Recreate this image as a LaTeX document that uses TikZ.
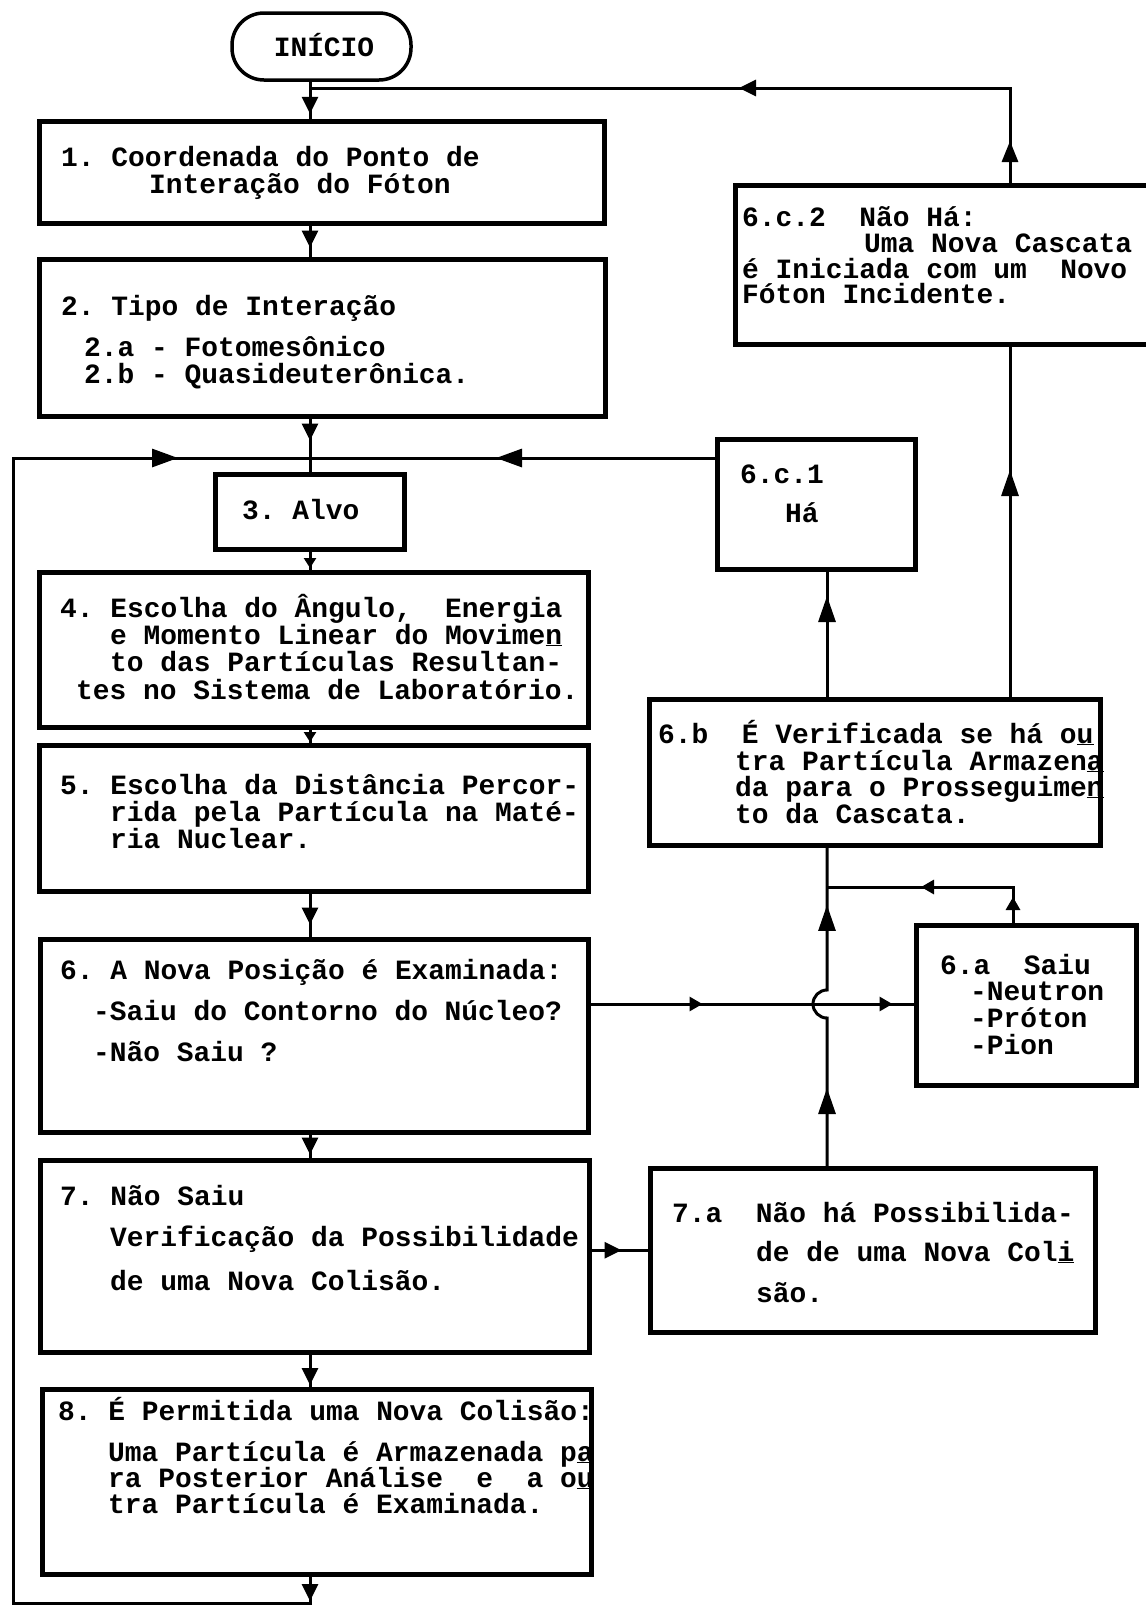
\documentclass[tikz,border=0pt]{standalone}
\usepackage{fontspec}
\setmonofont{Liberation Mono}
\usetikzlibrary{arrows.meta,decorations.markings,calc}
\tikzset{
  hd/.tip={Triangle[length=17pt,width=16pt]},
  hdv/.tip={Triangle[length=21pt,width=16pt]},
  hds/.tip={Triangle[length=10pt,width=12pt]},
  hdr/.tip={Triangle[length=13pt,width=14pt]},
  hdl/.tip={Triangle[length=26pt,width=18pt]},
  hdu/.tip={Triangle[length=26pt,width=17pt]},
  box/.style={draw, line width=4.5pt, rectangle, inner sep=0pt, anchor=north west},
  term/.style={draw, line width=3.5pt, rectangle, rounded corners=32pt, inner sep=0pt,
    minimum width=179pt, minimum height=67pt},
  conn/.style={line width=3pt},
  txt/.style={font=\ttfamily\bfseries\fontsize{27.9pt}{27.9pt}\selectfont, anchor=base west, inner sep=0pt},
  tips/.style={postaction={decorate}, decoration={markings,#1}}
}
\begin{document}
\begin{tikzpicture}[x=1pt,y=-1pt]
\useasboundingbox (0,0) rectangle (1146,1610);
\clip (0,0) rectangle (1146,1610);
\fill[white] (0,0) rectangle (1146,1610);

% guide coordinates
\coordinate (spine) at (310,0);
\coordinate (lx) at (13,0);
\coordinate (vx) at (827,0);
\coordinate (vxa) at (1013,0);
\coordinate (vxc) at (1010,0);
\coordinate (ytop) at (0,88);
\coordinate (yloop) at (0,458);
\coordinate (yj) at (0,887);
\coordinate (yh) at (0,1004);
\coordinate (ybot) at (0,1603);

% boxes
\node[term] (start) at (321.5,46.5) {};
\node[txt, anchor=base] (t0) at (324,56) {INÍCIO};

\node[box, minimum width=565pt, minimum height=102pt] (b1) at (37,119) {};
\node[box, minimum width=566pt, minimum height=157pt] (b2) at (37,257) {};
\node[box, minimum width=189pt, minimum height=75pt]  (b3) at (213,472) {};
\node[box, minimum width=549pt, minimum height=155pt] (b4) at (37,570) {};
\node[box, minimum width=549pt, minimum height=146pt] (b5) at (37,743) {};
\node[box, minimum width=548pt, minimum height=193pt] (b6) at (38,937) {};
\node[box, minimum width=549pt, minimum height=192pt] (b7) at (38,1158) {};
\node[box, minimum width=549pt, minimum height=185pt] (b8) at (40,1387) {};
\node[box, minimum width=420pt, minimum height=159pt] (b6c2) at (733,183) {};
\node[box, minimum width=198pt, minimum height=130pt] (b6c1) at (715,437) {};
\node[box, minimum width=451pt, minimum height=146pt] (b6b) at (647,697) {};
\node[box, minimum width=220pt, minimum height=160pt] (b6a) at (914,923) {};
\node[box, minimum width=445pt, minimum height=164pt] (b7a) at (648,1166) {};

% texts
\node[txt] (t1a) at (61,166) {1. Coordenada do Ponto de};
\node[txt] (t1b) at (149,193) {Interação do Fóton};

\node[txt] (t2a) at (61,315) {2. Tipo de Interação};
\node[txt] (t2b) at (84,356) {2.a - Fotomesônico};
\node[txt] (t2c) at (84,383) {2.b - Quasideuterônica.};

\node[txt] (t3a) at (242,519) {3. Alvo};

\node[txt] (t4a) at (60,617) {4. Escolha do Ângulo,~~Energia};
\node[txt] (t4b) at (110,644) {e Momento Linear do Movime\underline{n}};
\node[txt] (t4c) at (110,671) {to das Partículas Resultan-};
\node[txt] (t4d) at (76,699) {tes no Sistema de Laboratório.};

\node[txt] (t5a) at (60,794) {5. Escolha da Distância Percor-};
\node[txt] (t5b) at (110,821) {rida pela Partícula na Maté-};
\node[txt] (t5c) at (110,848) {ria Nuclear.};

\node[txt] (t6a) at (60,979) {6. A Nova Posição é Examinada:};
\node[txt] (t6b) at (93,1020) {-Saiu do Contorno do Núcleo?};
\node[txt] (t6c) at (93,1061) {-Não Saiu ?};

\node[txt] (t7a) at (60,1205) {7. Não Saiu};
\node[txt] (t7b) at (110,1246) {Verificação da Possibilidade};
\node[txt] (t7c) at (110,1290) {de uma Nova Colisão.};

\node[txt] (t8a) at (58,1420) {8. É Permitida uma Nova Colisão:};
\node[txt] (t8b) at (108,1461) {Uma Partícula é Armazenada p\underline{a}};
\node[txt] (t8c) at (108,1487) {ra Posterior Análise~~e~~a o\underline{u}};
\node[txt] (t8d) at (108,1513) {tra Partícula é Examinada.};

\node[txt] (tc2a) at (742,226) {6.c.2~~Não Há:};
\node[txt] (tc2b) at (864,252) {Uma Nova Cascata};
\node[txt] (tc2c) at (742,278) {é Iniciada com um~~Novo};
\node[txt] (tc2d) at (742,303) {Fóton Incidente.};

\node[txt] (tc1a) at (740,483) {6.c.1};
\node[txt] (tc1b) at (785,522) {Há};

\node[txt] (tba) at (658,743) {6.b~~É Verificada se há o\underline{u}};
\node[txt] (tbb) at (735,770) {tra Partícula Armazen\underline{a}};
\node[txt] (tbc) at (735,796) {da para o Prosseguime\underline{n}};
\node[txt] (tbd) at (735,823) {to da Cascata.};

\node[txt] (taa) at (940,974) {6.a~~Saiu};
\node[txt] (tab) at (970,1000) {-Neutron};
\node[txt] (tac) at (970,1027) {-Próton};
\node[txt] (tad) at (970,1054) {-Pion};

\node[txt] (t7aa) at (672,1222) {7.a~~Não há Possibilida-};
\node[txt] (t7ab) at (756,1261) {de de uma Nova Col\underline{i}};
\node[txt] (t7ac) at (756,1302) {são.};

% spine connectors
\draw[conn, tips={mark=at position 32pt with {\arrow{hd}}}] (start.south -| spine) -- (b1.north -| spine);
\draw[conn, tips={mark=at position 22pt with {\arrow{hd}}}] (b1.south -| spine) -- (b2.north -| spine);
\draw[conn, tips={mark=at position 22pt with {\arrow{hd}}}] (b2.south -| spine) -- (b3.north -| spine);
\draw[conn] (b3.south -| spine) -- (b4.north -| spine);
\draw[conn, -{hds}] (b3.south -| spine) -- ($(b4.north -| spine)+(0,-2)$);
\draw[conn] (b4.south -| spine) -- (b5.north -| spine);
\draw[conn, -{hds}] (b4.south -| spine) -- ($(b5.north -| spine)+(0,-1)$);
\draw[conn, tips={mark=at position 31pt with {\arrow{hd}}}] (b5.south -| spine) -- (b6.north -| spine);
\draw[conn, tips={mark=at position 20pt with {\arrow{hd}}}] (b6.south -| spine) -- (b7.north -| spine);
\draw[conn] (b7.south -| spine) -- (b8.north -| spine);
\draw[conn, -{hd}] (b7.south -| spine) -- ($(b8.north -| spine)+(0,-2)$);

% return loop from 8 to 3
\draw[conn, tips={mark=at position -132pt with {\arrow{hdl}}}]
  (b8.south -| spine) -- (ybot -| spine) -- (ybot -| lx) -- (yloop -| lx) -- (yloop -| spine);
\draw[conn, -{hd}] (b8.south -| spine) -- ($(ybot -| spine)+(0,-2)$);

% 6.c.1 back to 3
\draw[conn, tips={mark=at position 219pt with {\arrow{hdl}}}] (yloop -| b6c1.west) -- (yloop -| spine);

% 6.c.2 back to 1
\draw[conn, tips={mark=at position 42pt with {\arrow{hdv}}, mark=at position 366pt with {\arrow{hd}}}]
  (b6c2.north -| vxc) -- (ytop -| vxc) -- (ytop -| spine);

% 6.b to 6.c.1 and 6.c.2
\draw[conn, tips={mark=at position 101pt with {\arrow{hdu}}}] (b6b.north -| vx) -- (b6c1.south -| vx);
\draw[conn, tips={mark=at position 227pt with {\arrow{hdu}}}] (b6b.north -| vxc) -- (b6c2.south -| vxc);

% 6 to 6.a
\draw[conn, tips={mark=at position 112pt with {\arrow{hdr}}, mark=at position 302pt with {\arrow{hdr}}}]
  (yh -| b6.east) -- (yh -| b6a.west);

% 6.a to junction
\draw[conn, tips={mark=at position 26pt with {\arrow{hdr}}, mark=at position 128pt with {\arrow{hdr}}}]
  (b6a.north -| vxa) -- (yj -| vxa) -- (yj -| vx);

% 7.a up to 6.b with line jump
\draw[conn, tips={mark=at position 78pt with {\arrow{hdu}}, mark=at position 277pt with {\arrow{hdu}}}]
  (b7a.north -| vx) -- ($(yh -| vx)+(0,14)$) arc[start angle=270, end angle=90, radius=14pt] -- (b6b.south -| vx);

% 7 to 7.a
\draw[conn, tips={mark=at position 30pt with {\arrow{hd}}}] (b7a.west -| b7.east) -- (b7a.west);
\end{tikzpicture}
\end{document}
